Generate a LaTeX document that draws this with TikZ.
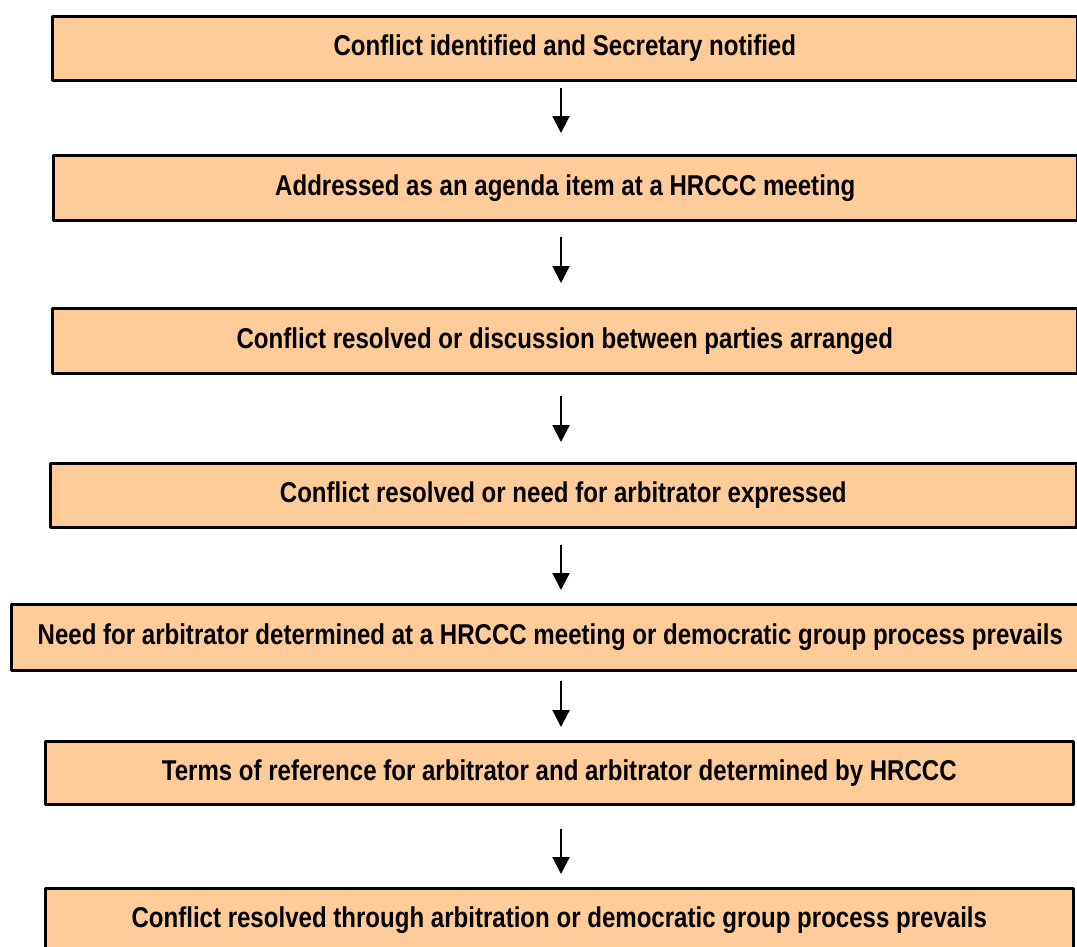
\documentclass[tikz,border=0pt]{standalone}
\usepackage{fontspec}
\setmainfont[FakeStretch=0.84]{Liberation Sans}
\usetikzlibrary{arrows.meta,calc}
\definecolor{peach}{HTML}{FFCC99}
\begin{document}
\begin{tikzpicture}[x=0.02cm,y=-0.02cm,line join=round,
	stage/.style={draw,fill=peach,line width=1.6pt,anchor=north west,inner sep=0pt,
		font=\fontsize{16.3}{19}\selectfont\bfseries},
	flow/.style={line width=1.2pt,-{Triangle[width=0.34cm,length=0.34cm]}}]
	\useasboundingbox (0,0) rectangle (1077,946);
	\coordinate (axis) at (561,0);

	\node[stage,minimum width=20.5cm,minimum height=1.28cm] (s1) at (51,15) {Conflict identified and Secretary notified};
	\node[stage,minimum width=20.48cm,minimum height=1.3cm] (s2) at (52,154) {Addressed as an agenda item at a HRCCC meeting};
	\node[stage,minimum width=20.5cm,minimum height=1.3cm] (s3) at (51,307) {Conflict resolved or discussion between parties arranged};
	\node[stage,minimum width=20.52cm,minimum height=1.28cm] (s4) at (49,462) {Conflict resolved or need for arbitrator expressed};
	\node[stage,minimum width=21.56cm,minimum height=1.32cm] (s5) at (10,603) {Need for arbitrator determined at a HRCCC meeting or democratic group process prevails};
	\node[stage,minimum width=20.56cm,minimum height=1.26cm] (s6) at (44,740) {Terms of reference for arbitrator and arbitrator determined by HRCCC};
	\node[stage,minimum width=20.56cm,minimum height=1.28cm] (s7) at (44,887) {Conflict resolved through arbitration or democratic group process prevails};

	\draw[flow] ($(s1.south -| axis)+(0,6)$) -- ($(s2.north -| axis)+(0,-21)$);
	\draw[flow] ($(s2.south -| axis)+(0,15)$) -- ($(s3.north -| axis)+(0,-24)$);
	\draw[flow] ($(s3.south -| axis)+(0,21)$) -- ($(s4.north -| axis)+(0,-20)$);
	\draw[flow] ($(s4.south -| axis)+(0,16)$) -- ($(s5.north -| axis)+(0,-13)$);
	\draw[flow] ($(s5.south -| axis)+(0,9)$) -- ($(s6.north -| axis)+(0,-13)$);
	\draw[flow] ($(s6.south -| axis)+(0,23)$) -- ($(s7.north -| axis)+(0,-13)$);
\end{tikzpicture}
\end{document}
